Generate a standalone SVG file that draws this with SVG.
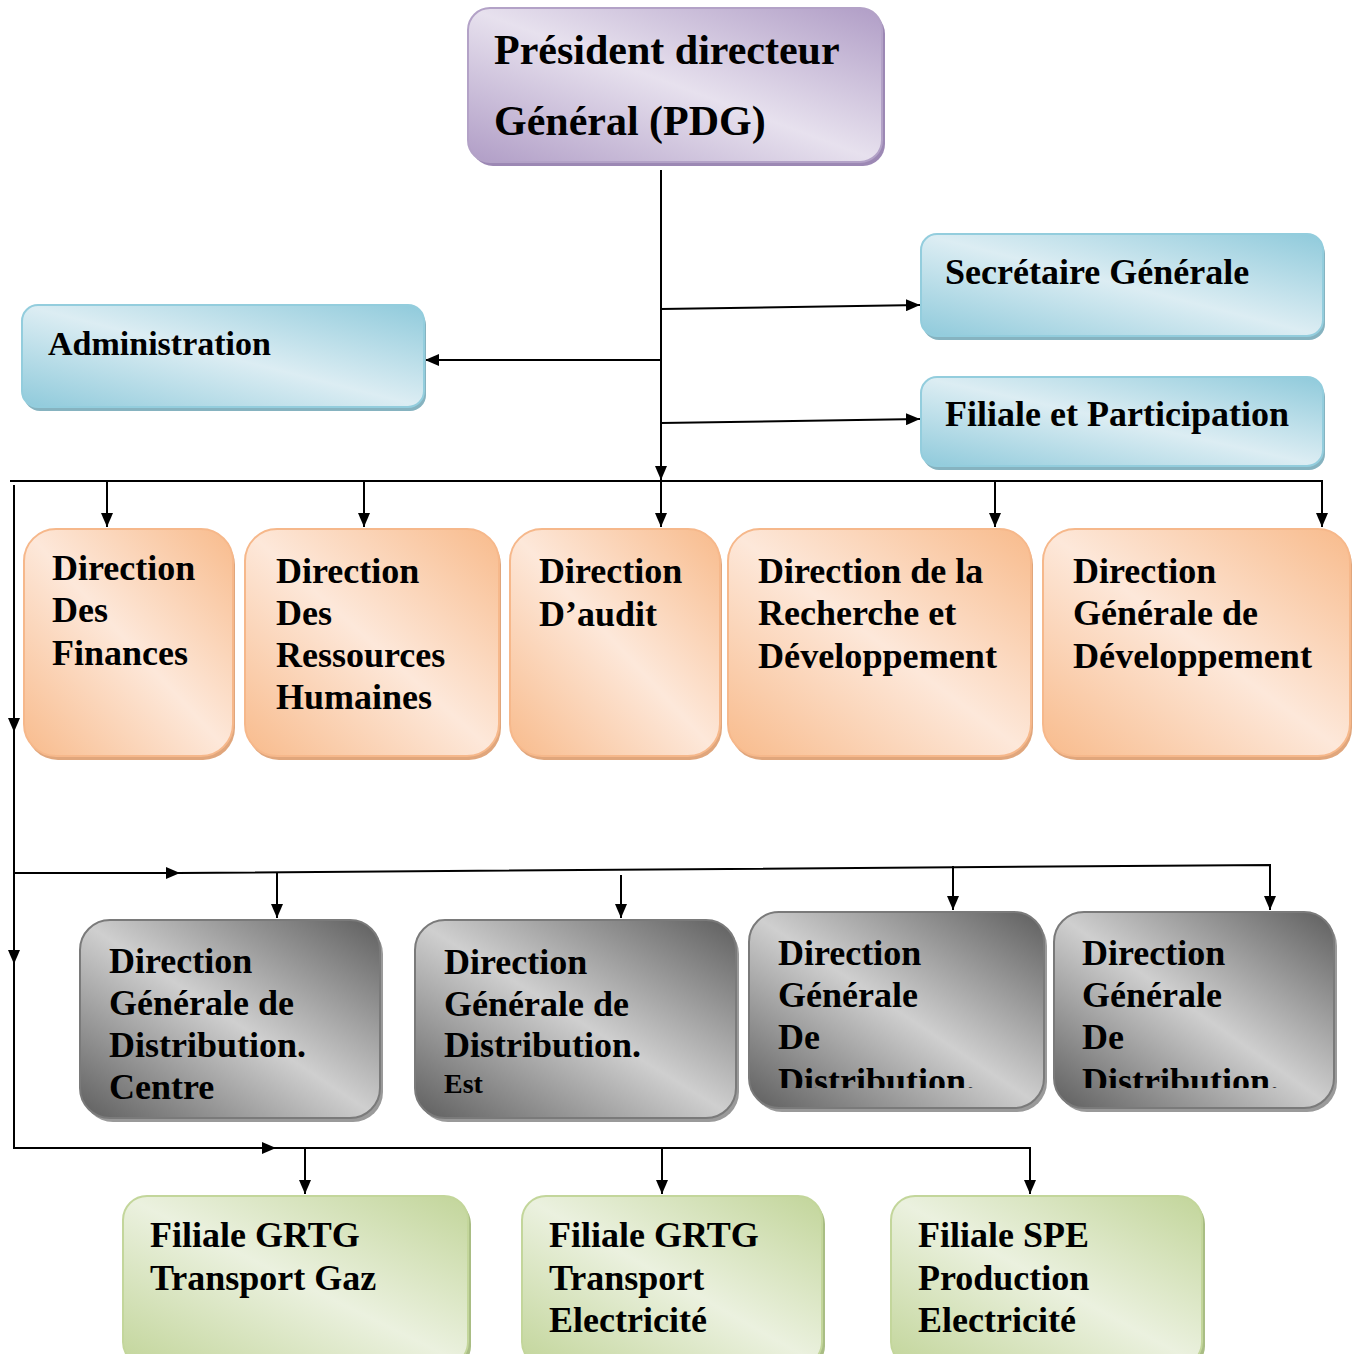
<svg xmlns="http://www.w3.org/2000/svg" width="1358" height="1354" viewBox="0 0 1358 1354">
<style>
text{font-family:"Liberation Serif","Times New Roman",serif;font-weight:bold;fill:#000;}
.t36{font-size:36px;}
.t42{font-size:42px;}
.c{fill:none;stroke:#000;stroke-width:2;}
</style>
<defs>
<marker id="a" viewBox="0 0 14 12" refX="14" refY="6" markerWidth="14" markerHeight="12" markerUnits="userSpaceOnUse" orient="auto">
<path d="M0,0 L14,6 L0,12 Z" fill="#000"/>
</marker>
<linearGradient id="gPur" x1="1" y1="0" x2="0" y2="1">
<stop offset="0" stop-color="#b09dc6"/><stop offset="0.5" stop-color="#e7e1ee"/><stop offset="1" stop-color="#b09dc6"/>
</linearGradient>
<linearGradient id="gBlu" x1="1" y1="0" x2="0" y2="1">
<stop offset="0" stop-color="#8fcadb"/><stop offset="0.5" stop-color="#dcedf3"/><stop offset="1" stop-color="#8fcadb"/>
</linearGradient>
<linearGradient id="gOr" x1="1" y1="0" x2="0" y2="1">
<stop offset="0" stop-color="#f8bb8c"/><stop offset="0.5" stop-color="#fde8da"/><stop offset="1" stop-color="#f8bb8c"/>
</linearGradient>
<linearGradient id="gGr" x1="1" y1="0" x2="0" y2="1">
<stop offset="0" stop-color="#5e5e5e"/><stop offset="0.5" stop-color="#cfcfcf"/><stop offset="1" stop-color="#5e5e5e"/>
</linearGradient>
<linearGradient id="gGn" x1="1" y1="0" x2="0" y2="1">
<stop offset="0" stop-color="#c2d59a"/><stop offset="0.5" stop-color="#ebf1df"/><stop offset="1" stop-color="#c2d59a"/>
</linearGradient>
<clipPath id="clipG3"><rect x="749" y="900" width="300" height="188"/></clipPath>
<clipPath id="clipG4"><rect x="1054" y="900" width="290" height="188"/></clipPath>
</defs>
<rect width="1358" height="1354" fill="#fff"/>

<g id="connectors">
<line class="c" x1="661" y1="170" x2="661" y2="480" marker-end="url(#a)"/>
<line class="c" x1="661" y1="309" x2="920" y2="305" marker-end="url(#a)"/>
<line class="c" x1="661" y1="423" x2="920" y2="419" marker-end="url(#a)"/>
<line class="c" x1="661" y1="360" x2="425" y2="360" marker-end="url(#a)"/>
<polyline class="c" points="10,481 1322,481 1322,527" marker-end="url(#a)"/>
<line class="c" x1="107" y1="481" x2="107" y2="527" marker-end="url(#a)"/>
<line class="c" x1="364" y1="481" x2="364" y2="527" marker-end="url(#a)"/>
<line class="c" x1="661" y1="481" x2="661" y2="527" marker-end="url(#a)"/>
<line class="c" x1="995" y1="481" x2="995" y2="527" marker-end="url(#a)"/>
<line class="c" x1="14" y1="485" x2="14" y2="732" marker-end="url(#a)"/>
<line class="c" x1="14" y1="730" x2="14" y2="964" marker-end="url(#a)"/>
<polyline class="c" points="14,960 14,1148"/>
<line class="c" x1="14" y1="873" x2="180" y2="873" marker-end="url(#a)"/>
<polyline class="c" points="178,873 1270,865 1270,910" marker-end="url(#a)"/>
<line class="c" x1="277" y1="873" x2="277" y2="918" marker-end="url(#a)"/>
<line class="c" x1="621" y1="875" x2="621" y2="918" marker-end="url(#a)"/>
<line class="c" x1="953" y1="866" x2="953" y2="910" marker-end="url(#a)"/>
<line class="c" x1="13" y1="1148" x2="276" y2="1148" marker-end="url(#a)"/>
<polyline class="c" points="274,1148 1030,1148 1030,1194" marker-end="url(#a)"/>
<line class="c" x1="305" y1="1148" x2="305" y2="1194" marker-end="url(#a)"/>
<line class="c" x1="662" y1="1148" x2="662" y2="1194" marker-end="url(#a)"/>
</g>

<g id="pdg">
<rect x="471" y="12" width="414" height="154" rx="22" fill="#9c88b4"/>
<rect x="468" y="8" width="414" height="154" rx="22" fill="url(#gPur)" stroke="#b3a2c7" stroke-width="2"/>
<text class="t42" x="494" y="64">Président directeur</text>
<text class="t42" x="494" y="135">Général (PDG)</text>
</g>

<g id="secretaire">
<rect x="923" y="238" width="402" height="102" rx="16" fill="#86b3c0"/>
<rect x="921" y="234" width="402" height="102" rx="16" fill="url(#gBlu)" stroke="#93cddd" stroke-width="2"/>
<text class="t36" x="945" y="284">Secrétaire Générale</text>
</g>

<g id="filiale-participation">
<rect x="923" y="381" width="402" height="89" rx="16" fill="#86b3c0"/>
<rect x="921" y="377" width="402" height="89" rx="16" fill="url(#gBlu)" stroke="#93cddd" stroke-width="2"/>
<text class="t36" x="945" y="426">Filiale et Participation</text>
</g>

<g id="administration">
<rect x="24" y="309" width="402" height="102" rx="16" fill="#86b3c0"/>
<rect x="22" y="305" width="402" height="102" rx="16" fill="url(#gBlu)" stroke="#93cddd" stroke-width="2"/>
<text x="48" y="355" style="font-size:34px">Administration</text>
</g>

<g id="dir-finances">
<rect x="26" y="533" width="209" height="227" rx="32" fill="#e0a67c"/>
<rect x="24" y="529" width="209" height="227" rx="32" fill="url(#gOr)" stroke="#f6b88b" stroke-width="2"/>
<text class="t36" x="52" y="580">Direction</text>
<text class="t36" x="52" y="622">Des</text>
<text class="t36" x="52" y="665">Finances</text>
</g>

<g id="dir-rh">
<rect x="247" y="533" width="254" height="227" rx="32" fill="#e0a67c"/>
<rect x="245" y="529" width="254" height="227" rx="32" fill="url(#gOr)" stroke="#f6b88b" stroke-width="2"/>
<text class="t36" x="276" y="583">Direction</text>
<text class="t36" x="276" y="625">Des</text>
<text class="t36" x="276" y="667">Ressources</text>
<text class="t36" x="276" y="709">Humaines</text>
</g>

<g id="dir-audit">
<rect x="512" y="533" width="210" height="227" rx="32" fill="#e0a67c"/>
<rect x="510" y="529" width="210" height="227" rx="32" fill="url(#gOr)" stroke="#f6b88b" stroke-width="2"/>
<text class="t36" x="539" y="583">Direction</text>
<text class="t36" x="539" y="626">D’audit</text>
</g>

<g id="dir-rd">
<rect x="730" y="533" width="303" height="227" rx="32" fill="#e0a67c"/>
<rect x="728" y="529" width="303" height="227" rx="32" fill="url(#gOr)" stroke="#f6b88b" stroke-width="2"/>
<text class="t36" x="758" y="583">Direction de la</text>
<text class="t36" x="758" y="625">Recherche et</text>
<text class="t36" x="758" y="668" textLength="239" lengthAdjust="spacingAndGlyphs">Développement</text>
</g>

<g id="dir-gen-dev">
<rect x="1045" y="533" width="307" height="227" rx="32" fill="#e0a67c"/>
<rect x="1043" y="529" width="307" height="227" rx="32" fill="url(#gOr)" stroke="#f6b88b" stroke-width="2"/>
<text class="t36" x="1073" y="583">Direction</text>
<text class="t36" x="1073" y="625">Générale de</text>
<text class="t36" x="1073" y="668" textLength="239" lengthAdjust="spacingAndGlyphs">Développement</text>
</g>

<g id="dgd-centre">
<rect x="83" y="924" width="300" height="198" rx="30" fill="#9a9a9a"/>
<rect x="80" y="920" width="300" height="198" rx="30" fill="url(#gGr)" stroke="#7a7a7a" stroke-width="2"/>
<text class="t36" x="109" y="973">Direction</text>
<text class="t36" x="109" y="1015">Générale de</text>
<text class="t36" x="109" y="1057">Distribution.</text>
<text class="t36" x="109" y="1099">Centre</text>
</g>

<g id="dgd-est">
<rect x="418" y="924" width="321" height="198" rx="30" fill="#9a9a9a"/>
<rect x="415" y="920" width="321" height="198" rx="30" fill="url(#gGr)" stroke="#7a7a7a" stroke-width="2"/>
<text class="t36" x="444" y="974">Direction</text>
<text class="t36" x="444" y="1016">Générale de</text>
<text class="t36" x="444" y="1057">Distribution.</text>
<text x="444" y="1093" style="font-size:28px">Est</text>
</g>

<g id="dgd-3">
<rect x="752" y="916" width="295" height="196" rx="30" fill="#9a9a9a"/>
<rect x="749" y="912" width="295" height="196" rx="30" fill="url(#gGr)" stroke="#7a7a7a" stroke-width="2"/>
<g clip-path="url(#clipG3)">
<text class="t36" x="778" y="965">Direction</text>
<text class="t36" x="778" y="1007">Générale</text>
<text class="t36" x="778" y="1049">De</text>
<text class="t36" x="778" y="1093">Distribution.</text>
</g>
</g>

<g id="dgd-4">
<rect x="1057" y="916" width="280" height="196" rx="30" fill="#9a9a9a"/>
<rect x="1054" y="912" width="280" height="196" rx="30" fill="url(#gGr)" stroke="#7a7a7a" stroke-width="2"/>
<g clip-path="url(#clipG4)">
<text class="t36" x="1082" y="965">Direction</text>
<text class="t36" x="1082" y="1007">Générale</text>
<text class="t36" x="1082" y="1049">De</text>
<text class="t36" x="1082" y="1093">Distribution.</text>
</g>
</g>

<g id="filiale-gaz">
<rect x="126" y="1200" width="345" height="170" rx="24" fill="#a9bd84"/>
<rect x="123" y="1196" width="345" height="170" rx="24" fill="url(#gGn)" stroke="#c3d69b" stroke-width="2"/>
<text class="t36" x="150" y="1247">Filiale GRTG</text>
<text class="t36" x="150" y="1290">Transport Gaz</text>
</g>

<g id="filiale-elec">
<rect x="525" y="1200" width="300" height="170" rx="24" fill="#a9bd84"/>
<rect x="522" y="1196" width="300" height="170" rx="24" fill="url(#gGn)" stroke="#c3d69b" stroke-width="2"/>
<text class="t36" x="549" y="1247">Filiale GRTG</text>
<text class="t36" x="549" y="1290">Transport</text>
<text class="t36" x="549" y="1332">Electricité</text>
</g>

<g id="filiale-spe">
<rect x="894" y="1200" width="311" height="170" rx="24" fill="#a9bd84"/>
<rect x="891" y="1196" width="311" height="170" rx="24" fill="url(#gGn)" stroke="#c3d69b" stroke-width="2"/>
<text class="t36" x="918" y="1247">Filiale SPE</text>
<text class="t36" x="918" y="1290">Production</text>
<text class="t36" x="918" y="1332">Electricité</text>
</g>
</svg>
